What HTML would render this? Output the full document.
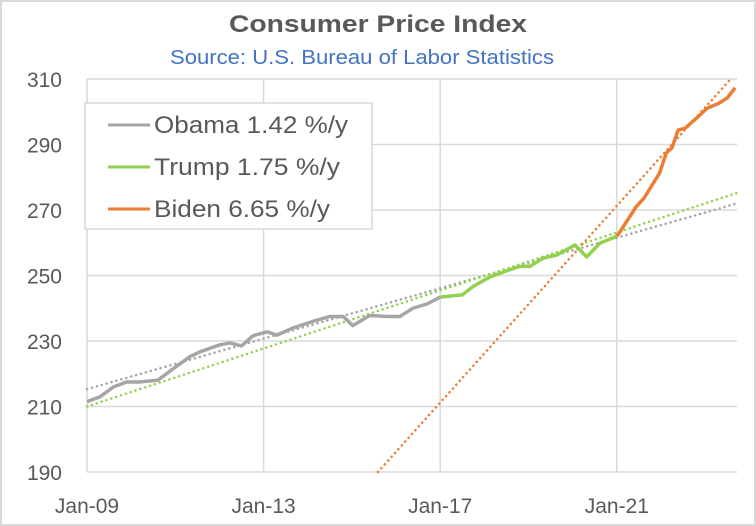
<!DOCTYPE html>
<html><head><meta charset="utf-8"><style>
body{margin:0;background:#fff;}
svg{display:block;font-family:"Liberation Sans",Calibri,sans-serif;}
</style></head><body>
<svg id="chart" width="756" height="526" viewBox="0 0 756 526">
<rect x="1" y="1" width="754" height="524" fill="#fff" stroke="#d9d9d9" stroke-width="2"/>
<text x="378" y="32" text-anchor="middle" font-size="24" font-weight="bold" fill="#595959" textLength="298" lengthAdjust="spacingAndGlyphs">Consumer Price Index</text>
<text x="362" y="64" text-anchor="middle" font-size="20" fill="#4472c4" textLength="384" lengthAdjust="spacingAndGlyphs">Source: U.S. Bureau of Labor Statistics</text>
<g id="grid"></g><g id="axes"></g><g id="series"></g>
<g>
<rect x="85" y="103" width="287" height="126" fill="#fff" stroke="#d9d9d9" stroke-width="1.5"/>
<g><line x1="108" y1="125" x2="150" y2="125" stroke="#a5a5a5" stroke-width="3"/><text x="154" y="133" font-size="24" fill="#595959" textLength="194" lengthAdjust="spacingAndGlyphs">Obama 1.42 %/y</text></g>
<g><line x1="108" y1="167" x2="150" y2="167" stroke="#92d050" stroke-width="3"/><text x="154" y="175" font-size="24" fill="#595959" textLength="186" lengthAdjust="spacingAndGlyphs">Trump 1.75 %/y</text></g>
<g><line x1="108" y1="209" x2="150" y2="209" stroke="#ed7d31" stroke-width="3"/><text x="154" y="217" font-size="24" fill="#595959" textLength="176" lengthAdjust="spacingAndGlyphs">Biden 6.65 %/y</text></g>
</g>
</svg>
<script>
// years since Jan-2009, CPI values
const obamaT=[0,0.3,0.6,0.9,1.2,1.6,2.0,2.33,2.56,3.0,3.24,3.5,3.76,4.08,4.3,4.67,5.12,5.5,5.8,6.02,6.4,6.8,7.09,7.38,7.7,8.0];
const obamaV=[211.5,213,216,217.5,217.5,218,222,225.2,226.7,228.8,229.4,228.5,231.6,232.8,231.8,234,236,237.5,237.5,234.7,237.8,237.5,237.5,240,241.3,243.4];
const trumpT=[8.0,8.07,8.5,8.74,9.13,9.42,9.8,10.03,10.33,10.65,11.05,11.32,11.62,12.0];
const trumpV=[243.4,243.5,244.1,246.6,249.6,251,252.8,252.8,255.3,256.3,259.3,255.7,259.9,262.0];
const bidenT=[12.0,12.07,12.44,12.62,12.97,13.12,13.25,13.39,13.55,13.8,14.05,14.3,14.5,14.68];
const bidenV=[262.0,263.3,271,273.7,281.3,287.4,289,294.4,295,298,301.1,302.5,304.2,307.3];
// trend lines: [t0, v0, t1, v1]
const obamaTrend=[0,215.3,14.72,272];
const trumpTrend=[0,210,14.72,275.2];
const bidenTrend=[6.59,190,14.6,310.3];
const yTicks=[190,210,230,250,270,290,310];
const xTickT=[0,4,8,12];
const xTickLabels=["Jan-09","Jan-13","Jan-17","Jan-21"];

const X0=87,XPY=44.15,XR=737,Y0=472,YPU=3.275,VMIN=190,VMAX=310;
const xs=t=>X0+t*XPY, ys=v=>Y0-(v-VMIN)*YPU;
const NS="http://www.w3.org/2000/svg";
function mk(tag,attrs,parent){const e=document.createElementNS(NS,tag);for(const k in attrs)e.setAttribute(k,attrs[k]);parent.appendChild(e);return e;}
const grid=document.getElementById('grid'),axes=document.getElementById('axes'),ser=document.getElementById('series');
yTicks.forEach(v=>{
  const l=mk('line',{x1:X0,x2:XR,y1:ys(v),y2:ys(v),stroke:'#d9d9d9','stroke-width':1.5},grid);
  
  
  const t=mk('text',{x:62,y:ys(v)+8,'text-anchor':'end','font-size':21,fill:'#595959'},axes);
  t.textContent=v;
  
  
});
xTickT.forEach((tt,i)=>{
  const l=mk('line',{x1:xs(tt),x2:xs(tt),y1:ys(VMAX),y2:Y0,stroke:'#d9d9d9','stroke-width':1.5},grid);
  
  
  const t=mk('text',{x:xs(tt),y:513,'text-anchor':'middle','font-size':21,fill:'#595959'},axes);
  t.textContent=xTickLabels[i];
  
  
});
function trend(a,color,name){
  const l=mk('line',{x1:xs(a[0]),y1:ys(a[1]),x2:xs(a[2]),y2:ys(a[3]),stroke:color,'stroke-width':2.5,'stroke-dasharray':'0.1 5','stroke-linecap':'round'},ser);
  
  
}
function line(T,V,color,name){
  const p=mk('polyline',{points:T.map((t,i)=>xs(t)+','+ys(V[i])).join(' '),fill:'none',stroke:color,'stroke-width':3.5,'stroke-linejoin':'round'},ser);
  
  
}
trend(obamaTrend,'#a5a5a5','obama-trendline');
trend(trumpTrend,'#92d050','trump-trendline');
trend(bidenTrend,'#ed7d31','biden-trendline');
line(obamaT,obamaV,'#a5a5a5','obama-cpi-line');
line(trumpT,trumpV,'#92d050','trump-cpi-line');
line(bidenT,bidenV,'#ed7d31','biden-cpi-line');
</script>
</body></html>
